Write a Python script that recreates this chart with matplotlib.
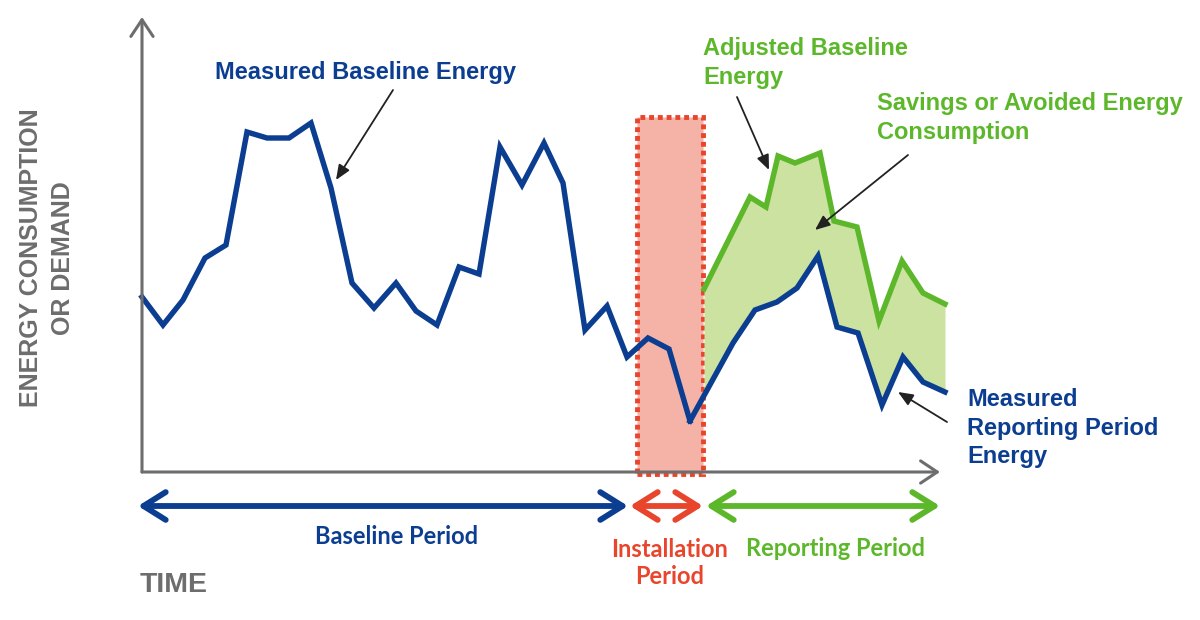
import numpy as np
import matplotlib
matplotlib.use("Agg")
import matplotlib.pyplot as plt
from matplotlib.patches import Rectangle

# time / energy (origin at the axes corner)
baseline_time = [0, 21, 41, 63, 84, 105, 125, 147, 169, 189, 210, 232, 254, 274,
                 295, 317, 337, 358, 380, 402, 421, 443, 465, 485, 506, 527, 548]
baseline_energy = [175, 147, 172, 214, 227, 340, 334, 334, 349, 284, 189, 164, 189, 161,
                   147, 205, 198, 325, 287, 329, 289, 142, 166, 115, 134, 123, 51]

reporting_time = [548, 591, 613, 635, 655, 676, 695, 716, 740, 761, 781, 803]
reporting_energy = [51, 129, 162, 170, 184, 216, 145, 139, 67, 115, 90, 80]

adjusted_time = [562, 608, 624, 636, 653, 678, 692, 715, 737, 760, 781, 803]
adjusted_energy = [183, 275, 265, 316, 309, 319, 251, 245, 151, 211, 179, 168]

install_start, install_end, install_top = 495, 561, 355
period_names = ["Baseline Period", "Installation\nPeriod", "Reporting Period"]
period_edges = [(-4, 486), (488, 561), (564, 798)]

BLUE = "#0b3d91"
GREEN = "#5cb82a"
RED = "#e8452c"
GRAY = "#6d6d6d"
ANN_FONT = ["Liberation Sans", "DejaVu Sans"]
PER_FONT = ["Lato", "DejaVu Sans"]
ANN_SIZE = 17

fig = plt.figure(figsize=(12, 6.2), dpi=100)
ax = fig.add_axes([0, 0, 1, 1])
ax.set_xlim(-142, 1058)
ax.set_ylim(-148, 472)
ax.axis("off")

# installation period box
ax.add_patch(Rectangle((install_start, -2), install_end - install_start, install_top + 2,
                       facecolor="#f5b3a8", edgecolor=RED, lw=3.5,
                       linestyle=(0, (1, 0.8)), zorder=1))

# savings area between adjusted baseline and reporting energy
grid = np.union1d(adjusted_time, [t for t in reporting_time if t >= adjusted_time[0]])
upper = np.interp(grid, adjusted_time, adjusted_energy)
lower = np.interp(grid, reporting_time, reporting_energy)
ax.fill_between(grid, lower, upper, color="#cbe2a0", lw=0, zorder=2)

ax.plot(adjusted_time, adjusted_energy, color=GREEN, lw=3.9, solid_joinstyle="miter", zorder=3)
ax.plot(baseline_time, baseline_energy, color=BLUE, lw=3.9, solid_joinstyle="miter", zorder=4)
ax.plot(reporting_time, reporting_energy, color=BLUE, lw=3.9, solid_joinstyle="miter", zorder=4)

# axes arrows
axis_arrow = dict(arrowstyle="->,head_length=0.6,head_width=0.4", color=GRAY, lw=2.2,
                  shrinkA=0, shrinkB=0, mutation_scale=20, capstyle="round", joinstyle="round")
ax.annotate("", xy=(0, 455), xytext=(0, 0), arrowprops=axis_arrow, zorder=5)
ax.annotate("", xy=(798, 0), xytext=(0, 0), arrowprops=axis_arrow, zorder=5)

# period arrows
for (x0, x1), col in zip(period_edges, [BLUE, RED, GREEN]):
    ax.annotate("", xy=(x1, -34), xytext=(x0, -34),
                arrowprops=dict(arrowstyle="<->,head_length=0.8,head_width=0.5", color=col,
                                lw=4.2, shrinkA=0, shrinkB=0, mutation_scale=20,
                                capstyle="round", joinstyle="round"))

ax.text(255, -65, period_names[0], color=BLUE, fontsize=17, fontweight="bold",
        family=PER_FONT, ha="center", va="center")
ax.text(528, -91, period_names[1], color=RED, fontsize=17, fontweight="bold",
        family=PER_FONT, ha="center", va="center", linespacing=1.2)
ax.text(694, -76, period_names[2], color=GREEN, fontsize=17, fontweight="bold",
        family=PER_FONT, ha="center", va="center")

# axis labels
ax.text(-95, 214, "ENERGY CONSUMPTION\nOR DEMAND", rotation=90, color=GRAY, fontsize=18,
        fontweight="bold", family=ANN_FONT, ha="center", va="center",
        multialignment="center", linespacing=1.45)
ax.text(-2, -113, "TIME", color=GRAY, fontsize=20.5, fontweight="bold",
        family=ANN_FONT, ha="left", va="center")

# callouts
callout = dict(arrowstyle="-|>,head_length=0.6,head_width=0.25", color="#222222", lw=1.3,
               shrinkA=0, shrinkB=0, mutation_scale=15)
ax.text(73, 400, "Measured Baseline Energy", color=BLUE, fontsize=ANN_SIZE, fontweight="bold",
        family=ANN_FONT, ha="left", va="center")
ax.annotate("", xy=(194, 292), xytext=(251, 382), arrowprops=callout)

ax.text(561, 409, "Adjusted Baseline\nEnergy", color=GREEN, fontsize=ANN_SIZE, fontweight="bold",
        family=ANN_FONT, ha="left", va="center", linespacing=1.32)
ax.annotate("", xy=(627, 302), xytext=(595, 375), arrowprops=callout)

ax.text(735, 354, "Savings or Avoided Energy\nConsumption", color=GREEN, fontsize=ANN_SIZE,
        fontweight="bold", family=ANN_FONT, ha="left", va="center", linespacing=1.32)
ax.annotate("", xy=(673, 242), xytext=(766, 317), arrowprops=callout)

ax.text(825, 44, "Measured\nReporting Period\nEnergy", color=BLUE, fontsize=ANN_SIZE,
        fontweight="bold", family=ANN_FONT, ha="left", va="center", linespacing=1.32)
ax.annotate("", xy=(756, 80), xytext=(805, 50), arrowprops=callout)

fig.savefig("out.png", dpi=100, facecolor="white")
